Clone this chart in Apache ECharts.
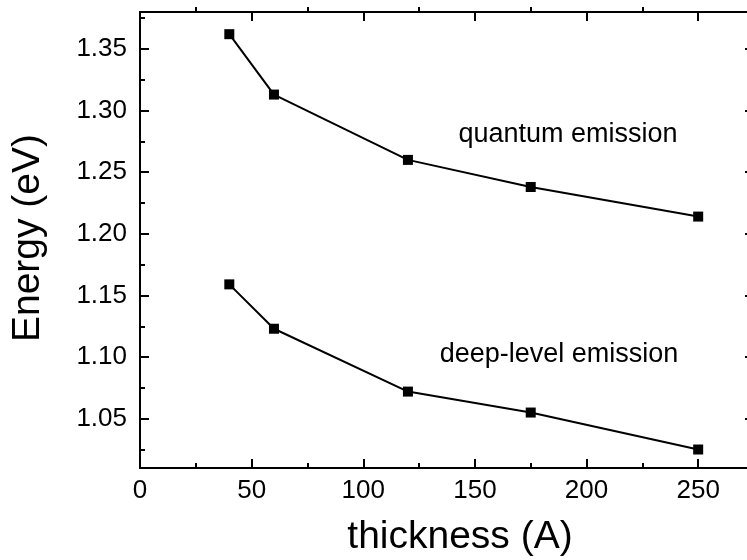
<!DOCTYPE html>
<html>
<head>
<meta charset="utf-8">
<script src="https://cdn.jsdelivr.net/npm/echarts@6/dist/echarts.min.js"></script>
<style>html,body{margin:0;padding:0;background:#fff}#c{width:747px;height:560px}</style>
</head>
<body>
<div id="c"></div>
<script>
// ---- data ----
const thickness = [40, 60, 120, 175, 250];
const quantumEnergy = [1.362, 1.313, 1.260, 1.238, 1.214];
const deepEnergy = [1.159, 1.123, 1.072, 1.055, 1.025];
const xMajorTicks = [0, 50, 100, 150, 200, 250];
const xMinorTicks = [25, 75, 125, 175, 225];
const yMajorTicks = [1.05, 1.10, 1.15, 1.20, 1.25, 1.30, 1.35];
const yMinorTicks = [1.025, 1.075, 1.125, 1.175, 1.225, 1.275, 1.325, 1.375];
const xTitle = 'thickness (A)';
const yTitle = 'Energy (eV)';
const quantumLabel = 'quantum emission';
const deepLabel = 'deep-level emission';

// ---- chart ----
const FONT = 'Liberation Sans, Arial, sans-serif';
const X_MIN = 0, X_MAX = 275, Y_MIN = 1.01, Y_MAX = 1.38;
const chart = echarts.init(document.getElementById('c'), null, {renderer: 'canvas'});

function xAxisDef(position, ticks, len, inside, showLine, labels) {
  return {
    type: 'value', gridIndex: 0, position: position, min: X_MIN, max: X_MAX,
    splitLine: {show: false},
    axisLine: {show: showLine, onZero: false, lineStyle: {color: '#000', width: 2}},
    axisTick: {show: true, inside: inside, length: len, customValues: ticks, lineStyle: {color: '#000', width: 2}},
    axisLabel: labels ? {show: true, customValues: xMajorTicks, margin: 10, color: '#000', fontSize: 26, fontFamily: FONT} : {show: false}
  };
}
function yAxisDef(position, ticks, len, inside, showLine, labels) {
  return {
    type: 'value', gridIndex: 0, position: position, min: Y_MIN, max: Y_MAX,
    splitLine: {show: false},
    axisLine: {show: showLine, onZero: false, lineStyle: {color: '#000', width: 2}},
    axisTick: {show: true, inside: inside, length: len, customValues: ticks, lineStyle: {color: '#000', width: 2}},
    axisLabel: labels ? {show: true, customValues: yMajorTicks, margin: 13, color: '#000', fontSize: 26, fontFamily: FONT,
      formatter: v => v.toFixed(2)} : {show: false}
  };
}

const series = [quantumEnergy, deepEnergy].map(vals => ({
  type: 'line',
  xAxisIndex: 0, yAxisIndex: 0,
  data: thickness.map((t, i) => [t, vals[i]]),
  symbol: 'rect', symbolSize: 10,
  itemStyle: {color: '#000'},
  lineStyle: {color: '#000', width: 2},
  silent: true
}));

chart.setOption({
  animation: false,
  backgroundColor: '#fff',
  grid: {left: 140, top: 12, width: 614, height: 456, containLabel: false, outerBoundsMode: 'none'},
  xAxis: [
    xAxisDef('bottom', xMajorTicks, 9, true, true, true),
    xAxisDef('bottom', xMinorTicks, 5, true, false, false),
    xAxisDef('top', xMajorTicks, 9, true, true, false),
    xAxisDef('top', xMinorTicks, 5, false, false, false)
  ],
  yAxis: [
    yAxisDef('left', yMajorTicks, 9, true, true, true),
    yAxisDef('left', yMinorTicks, 5, true, false, false),
    yAxisDef('right', yMajorTicks, 9, true, true, false),
    yAxisDef('right', yMinorTicks, 5, true, false, false)
  ],
  series: series,
  graphic: [
    {type: 'text', x: 28, y: 238, rotation: Math.PI / 2,
      style: {text: yTitle, font: '39px ' + FONT, fill: '#000', align: 'center', verticalAlign: 'middle'}},
    {type: 'text', x: 460, y: 537,
      style: {text: xTitle, font: '39px ' + FONT, fill: '#000', align: 'center', verticalAlign: 'middle'}},
    {type: 'text', x: 568, y: 135,
      style: {text: quantumLabel, font: '27px ' + FONT, fill: '#000', align: 'center', verticalAlign: 'middle'}},
    {type: 'text', x: 559, y: 355,
      style: {text: deepLabel, font: '27px ' + FONT, fill: '#000', align: 'center', verticalAlign: 'middle'}}
  ]
});
</script>
</body>
</html>
